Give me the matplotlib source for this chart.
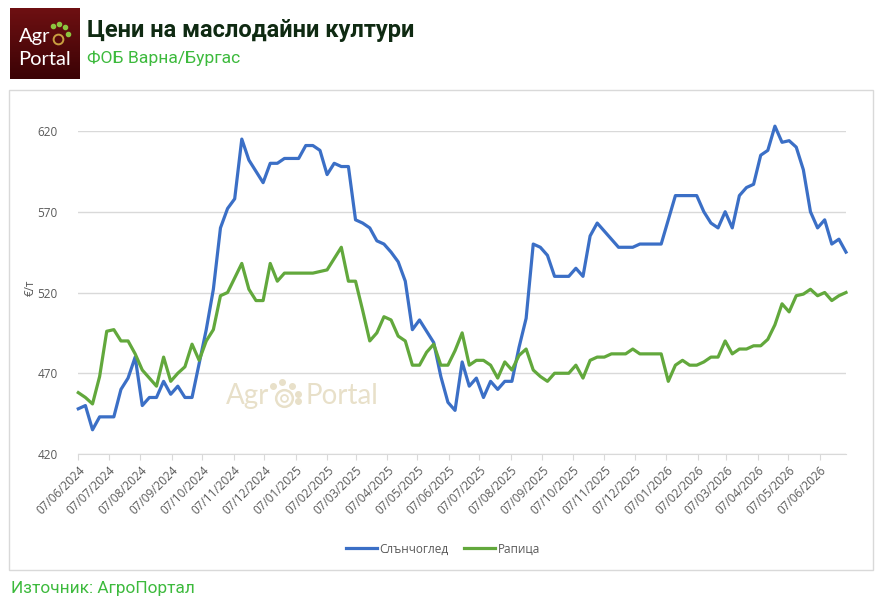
import numpy as np
import pandas as pd
import matplotlib
matplotlib.use('Agg')
import matplotlib.pyplot as plt
import matplotlib.dates as mdates
from matplotlib.patches import Rectangle

plt.rcParams['font.family'] = ['Open Sans', 'DejaVu Sans']

# weekly FOB prices, EUR/t, from 07/06/2024
start = '2024-06-07'
sunflower = [448, 450, 435, 443, 443, 443, 460, 467, 480, 450,
             455, 455, 465, 457, 462, 455, 455, 476, 497, 522,
             560, 572, 578, 615, 602, 595, 588, 600, 600, 603,
             603, 603, 611, 611, 608, 593, 600, 598, 598, 565,
             563, 560, 552, 550, 545, 539, 527, 497, 503, 496,
             489, 468, 452, 447, 477, 462, 467, 455, 465, 460,
             465, 465, 486, 504, 550, 548, 543, 530, 530, 530,
             535, 530, 555, 563, 558, 553, 548, 548, 548, 550,
             550, 550, 550, 565, 580, 580, 580, 580, 570, 563,
             560, 570, 560, 580, 585, 587, 605, 608, 623, 613,
             614, 610, 596, 570, 560, 565, 550, 553, 545]
rapeseed = [458, 455, 451, 468, 496, 497, 490, 490, 482, 472,
            467, 462, 480, 465, 470, 474, 488, 478, 490, 497,
            518, 520, 529, 538, 522, 515, 515, 538, 527, 532,
            532, 532, 532, 532, 533, 534, 541, 548, 527, 527,
            509, 490, 495, 505, 503, 493, 490, 475, 475, 483,
            488, 475, 475, 484, 495, 475, 478, 478, 475, 467,
            477, 472, 481, 485, 472, 468, 465, 470, 470, 470,
            475, 467, 478, 480, 480, 482, 482, 482, 485, 482,
            482, 482, 482, 465, 475, 478, 475, 475, 477, 480,
            480, 490, 482, 485, 485, 487, 487, 491, 500, 513,
            508, 518, 519, 522, 518, 520, 515, 518, 520]
series_names = ['Слънчоглед', 'Рапица']
yticks = [420, 470, 520, 570, 620]

dates = pd.date_range(start, periods=len(sunflower), freq='7D')
month_ticks = pd.date_range('2024-06-01', '2026-06-01', freq='MS') + pd.Timedelta(days=6)

W, H = 879, 598
fig = plt.figure(figsize=(W / 100, H / 100), dpi=100)

def fx(px):
    return px / W

def fy(py):
    return 1 - py / H

# chart frame
fig.patches.append(Rectangle((fx(9), fy(570)), fx(864), (570 - 90) / H,
                             transform=fig.transFigure, fill=False,
                             edgecolor='#d9d9d9', lw=1))

ax = fig.add_axes([fx(78.3), fy(454), fx(846 - 78.3), (454 - 131) / H])
ax.plot(dates, sunflower, color='#3b6fc6', lw=2.3, label=series_names[0],
        solid_joinstyle='round', zorder=3, clip_on=False)
ax.plot(dates, rapeseed, color='#62a83c', lw=2.3, label=series_names[1],
        solid_joinstyle='round', zorder=3, clip_on=False)

ax.set_xlim(dates[0], dates[-1])
ax.set_ylim(420, 620)
ax.set_yticks(yticks)
ax.grid(axis='y', color='#d9d9d9', lw=1)
ax.set_axisbelow(True)
for s in ['left', 'right', 'top']:
    ax.spines[s].set_visible(False)
ax.spines['bottom'].set_color('#d9d9d9')
ax.tick_params(axis='y', length=0, pad=15, labelsize=8.5, labelcolor='#595959')
ax.set_xticks(month_ticks)
ax.xaxis.set_major_formatter(mdates.DateFormatter('%d/%m/%Y'))
ax.tick_params(axis='x', length=4, color='#d9d9d9', labelsize=8.5,
               labelcolor='#595959', pad=3)
for lab in ax.get_xticklabels():
    lab.set_rotation(45)
    lab.set_ha('right')
    lab.set_va('top')
    lab.set_rotation_mode('anchor')
fig.text(fx(30), fy(288), '€/т', fontsize=8.5, color='#595959',
         rotation=90, ha='center', va='center')

# watermark
wm = '#e8e0c9'
ax.text(fx(226), fy(396), 'Agr', transform=fig.transFigure, fontsize=20,
        color=wm, va='center', family='Lato', zorder=1)
ax.text(fx(306), fy(396), 'Portal', transform=fig.transFigure, fontsize=20,
        color=wm, va='center', family='Lato', zorder=1)
ax.plot([fx(284)], [fy(398)], 'o', transform=fig.transFigure, ms=12,
        mfc='none', mec=wm, mew=1.8, zorder=1)
ax.plot([fx(284)], [fy(398)], 'o', transform=fig.transFigure,
        ms=5, mfc='none', mec=wm, mew=1.3, zorder=1)
for dx, dy in [(-11, -12), (-2, -16), (8, -12), (14, -4), (14, 3)]:
    ax.plot([fx(284 + dx)], [fy(398 + dy)], 'o', transform=fig.transFigure,
            ms=4, color=wm, zorder=1)

ax.legend(loc='center', bbox_to_anchor=(fx(443), fy(549)),
          bbox_transform=fig.transFigure, ncol=2, frameon=False,
          fontsize=8.5, handlelength=2.6, handletextpad=0.25,
          columnspacing=1.3, labelcolor='#595959')

# header logo
lax = fig.add_axes([fx(10), fy(79), fx(70), (79 - 8) / H])
grad = np.linspace(0, 1, 100).reshape(-1, 1)
cmap = matplotlib.colors.LinearSegmentedColormap.from_list('logo', ['#6e1012', '#3b0305'])
lax.imshow(grad, aspect='auto', cmap=cmap, extent=[0, 1, 0, 1])
lax.set_axis_off()
lax.text(0.13, 0.6, 'Agr', color='white', fontsize=14.5, va='center',
         family='Lato', transform=lax.transAxes)
lax.plot([0.69], [0.57], 'o', ms=7, mfc='none', mec='#c9a040', mew=1.4,
         transform=lax.transAxes)
for dx, dy in [(-0.08, 0.17), (0.01, 0.21), (0.1, 0.16), (0.14, 0.06)]:
    lax.plot([0.69 + dx], [0.57 + dy], 'o', ms=3, color='#8cc63f',
             transform=lax.transAxes)
lax.text(0.12, 0.28, 'Portal', color='white', fontsize=14.5, va='center',
         family='Lato', transform=lax.transAxes)
lax.set_xlim(0, 1)
lax.set_ylim(0, 1)

fig.text(fx(87), fy(30), 'Цени на маслодайни култури', fontsize=17,
         fontweight='bold', color='#0f2a12', va='center', family='Roboto')
fig.text(fx(87), fy(58), 'ФОБ Варна/Бургас', fontsize=12.6, color='#3dba3d',
         va='center', family='Roboto')
fig.text(fx(11), fy(588), 'Източник: АгроПортал', fontsize=12.4,
         color='#3dba3d', va='center', family='Roboto')

fig.savefig('out.png', dpi=100)
